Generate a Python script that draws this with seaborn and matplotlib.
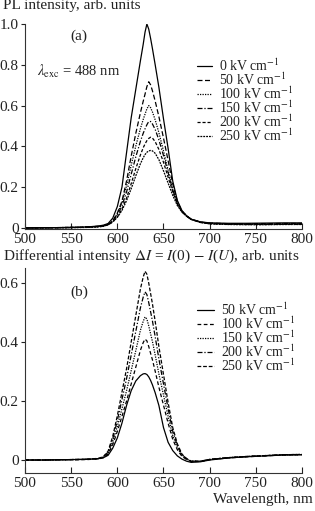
import matplotlib
matplotlib.use("Agg")
import matplotlib.pyplot as plt
import seaborn as sns
import numpy as np

sns.set_theme(style="ticks")
plt.rcParams['font.family'] = ['Liberation Serif', 'DejaVu Serif']
plt.rcParams['mathtext.fontset'] = 'stix'

# ---------------- data ----------------
wavelength = [500, 520, 540, 560, 570, 580, 585, 590, 595, 600, 605, 610, 615, 620,
              625, 628, 630, 632, 634, 636, 638, 641, 645, 650, 655, 660, 665, 670,
              675, 680, 690, 700, 720, 740, 760, 780, 800]

pl_labels = ["0 kV cm$^{-1}$", "50 kV cm$^{-1}$", "100 kV cm$^{-1}$",
             "150 kV cm$^{-1}$", "200 kV cm$^{-1}$", "250 kV cm$^{-1}$"]

pl_0 = [0.000, 0.001, 0.002, 0.004, 0.006, 0.010, 0.014, 0.022, 0.048, 0.105, 0.200, 0.370,
        0.540, 0.680, 0.820, 0.900, 0.960, 1.000, 0.975, 0.930, 0.880, 0.800, 0.690, 0.535,
        0.390, 0.230, 0.135, 0.085, 0.060, 0.043, 0.030, 0.025, 0.023, 0.023, 0.024, 0.025, 0.025]
pl_50 = [0.000, 0.001, 0.002, 0.003, 0.005, 0.008, 0.011, 0.017, 0.034, 0.073, 0.131, 0.231,
         0.352, 0.464, 0.565, 0.621, 0.656, 0.693, 0.717, 0.702, 0.673, 0.622, 0.546, 0.441,
         0.330, 0.217, 0.130, 0.083, 0.059, 0.043, 0.029, 0.024, 0.021, 0.021, 0.021, 0.022, 0.022]
pl_100 = [0.000, 0.001, 0.002, 0.003, 0.005, 0.008, 0.011, 0.018, 0.036, 0.071, 0.123, 0.207,
          0.307, 0.402, 0.487, 0.532, 0.558, 0.584, 0.600, 0.590, 0.569, 0.530, 0.467, 0.378,
          0.283, 0.189, 0.125, 0.082, 0.059, 0.043, 0.028, 0.023, 0.020, 0.020, 0.020, 0.021, 0.021]
pl_150 = [0.000, 0.001, 0.002, 0.003, 0.005, 0.008, 0.011, 0.017, 0.033, 0.063, 0.108, 0.177,
          0.263, 0.349, 0.425, 0.464, 0.486, 0.506, 0.522, 0.522, 0.510, 0.483, 0.432, 0.355,
          0.271, 0.187, 0.120, 0.080, 0.058, 0.042, 0.028, 0.022, 0.019, 0.018, 0.018, 0.019, 0.019]
pl_200 = [0.000, 0.001, 0.002, 0.003, 0.004, 0.007, 0.010, 0.015, 0.029, 0.054, 0.092, 0.147,
          0.217, 0.291, 0.358, 0.393, 0.412, 0.428, 0.439, 0.445, 0.441, 0.423, 0.385, 0.322,
          0.249, 0.178, 0.116, 0.079, 0.058, 0.042, 0.027, 0.021, 0.018, 0.017, 0.017, 0.018, 0.018]
pl_250 = [0.000, 0.001, 0.001, 0.002, 0.003, 0.005, 0.008, 0.016, 0.030, 0.052, 0.086, 0.134,
          0.192, 0.256, 0.315, 0.344, 0.360, 0.371, 0.378, 0.380, 0.378, 0.366, 0.335, 0.280,
          0.220, 0.160, 0.110, 0.078, 0.058, 0.042, 0.027, 0.020, 0.017, 0.016, 0.016, 0.017, 0.017]

diff_labels = ["50 kV cm$^{-1}$", "100 kV cm$^{-1}$", "150 kV cm$^{-1}$",
               "200 kV cm$^{-1}$", "250 kV cm$^{-1}$"]

diff_50 = [0.000, 0.000, 0.001, 0.002, 0.003, 0.005, 0.008, 0.016, 0.040, 0.075, 0.125, 0.185,
           0.235, 0.268, 0.286, 0.292, 0.293, 0.290, 0.282, 0.270, 0.255, 0.228, 0.185, 0.110,
           0.060, 0.032, 0.014, 0.003, -0.004, -0.008, -0.006, 0.000, 0.007, 0.011, 0.014, 0.017, 0.018]
diff_100 = [0.000, 0.000, 0.001, 0.001, 0.002, 0.004, 0.008, 0.020, 0.052, 0.097, 0.148, 0.200,
            0.258, 0.315, 0.372, 0.398, 0.410, 0.404, 0.385, 0.362, 0.340, 0.301, 0.247, 0.186,
            0.125, 0.070, 0.035, 0.012, 0.002, -0.005, -0.005, 0.001, 0.007, 0.011, 0.014, 0.017, 0.018]
diff_150 = [0.000, 0.000, 0.001, 0.002, 0.002, 0.005, 0.009, 0.023, 0.061, 0.114, 0.174, 0.235,
            0.303, 0.371, 0.440, 0.470, 0.485, 0.478, 0.455, 0.428, 0.402, 0.356, 0.292, 0.220,
            0.148, 0.083, 0.042, 0.015, 0.003, -0.004, -0.004, 0.002, 0.008, 0.012, 0.015, 0.017, 0.018]
diff_200 = [0.000, 0.000, 0.001, 0.002, 0.003, 0.005, 0.011, 0.027, 0.071, 0.134, 0.205, 0.276,
            0.356, 0.436, 0.516, 0.552, 0.570, 0.561, 0.534, 0.503, 0.472, 0.418, 0.343, 0.258,
            0.174, 0.098, 0.049, 0.018, 0.004, -0.004, -0.004, 0.002, 0.008, 0.012, 0.015, 0.018, 0.019]
diff_250 = [0.000, 0.000, 0.001, 0.002, 0.003, 0.006, 0.012, 0.030, 0.080, 0.150, 0.230, 0.310,
            0.400, 0.490, 0.580, 0.620, 0.640, 0.630, 0.600, 0.565, 0.530, 0.470, 0.385, 0.290,
            0.195, 0.110, 0.055, 0.020, 0.005, -0.004, -0.004, 0.002, 0.008, 0.012, 0.015, 0.018, 0.019]

x_ticks = [500, 550, 600, 650, 700, 750, 800]
y_ticks_a = [0, 0.2, 0.4, 0.6, 0.8, 1.0]
y_tick_labels_a = ["0", "0.2", "0.4", "0.6", "0.8", "1.0"]
y_ticks_b = [0, 0.2, 0.4, 0.6]
y_tick_labels_b = ["0", "0.2", "0.4", "0.6"]

pl_series = [pl_0, pl_50, pl_100, pl_150, pl_200, pl_250]
diff_series = [diff_50, diff_100, diff_150, diff_200, diff_250]

pl_styles = ['-', (0, (4, 2)), (0, (1, 1)), (0, (4, 1.5, 1, 1.5)), (0, (2.5, 1.5)), (0, (1.5, 0.8))]
diff_styles = ['-', (0, (3, 2)), (0, (1, 1)), (0, (4, 1.5, 1, 1.5)), (0, (3, 1.5))]

# ---------------- figure ----------------
W, H = 315, 511
fig = plt.figure(figsize=(W / 100, H / 100), dpi=100)

def fx(px):
    return px / W

def fy(py):
    return 1 - py / H

ax1 = fig.add_axes([fx(25), fy(229), fx(302) - fx(25), fy(24) - fy(229)])
ax2 = fig.add_axes([fx(25), fy(473), fx(302) - fx(25), fy(268) - fy(473)])

FS = 11
LFS = 10
TXT = '#222222'
for vals, lab, ls in zip(pl_series, pl_labels, pl_styles):
    sns.lineplot(x=wavelength, y=vals, ax=ax1, color='black', linewidth=0.9,
                 linestyle=ls, label=lab)
for vals, lab, ls in zip(diff_series, diff_labels, diff_styles):
    sns.lineplot(x=wavelength, y=vals, ax=ax2, color='black', linewidth=0.9,
                 linestyle=ls, label=lab)

for ax, yt, ytl in [(ax1, y_ticks_a, y_tick_labels_a), (ax2, y_ticks_b, y_tick_labels_b)]:
    ax.set_xlim(500, 800)
    ax.set_xticks(x_ticks)
    ax.set_xticklabels([str(v) for v in x_ticks])
    ax.set_yticks(yt)
    ax.set_yticklabels(ytl)
    for s in ['top', 'right']:
        ax.spines[s].set_visible(False)
    for s in ['left', 'bottom']:
        ax.spines[s].set_linewidth(0.8)
        ax.spines[s].set_color('#333333')
    ax.tick_params(axis='x', direction='in', length=4, width=0.8, pad=3,
                   labelsize=FS, colors=TXT)
    ax.tick_params(axis='y', direction='out', length=3, width=0.8, pad=1.5,
                   labelsize=FS, colors=TXT)
    ax.set_xlabel("")
    ax.set_ylabel("")
    ax.patch.set_alpha(0)

ax1.set_ylim(-0.005, 1.0)
ax2.set_ylim(-0.044, 0.651)

leg_x = (197 - 25) / (302 - 25)
leg1 = ax1.legend(loc='upper left', bbox_to_anchor=(leg_x, 0.835),
                  frameon=False, fontsize=LFS, handlelength=1.1, handletextpad=0.5,
                  labelspacing=-0.19, borderpad=0, borderaxespad=0)
leg2 = ax2.legend(loc='upper left', bbox_to_anchor=(leg_x, 0.835),
                  frameon=False, fontsize=LFS, handlelength=1.2, handletextpad=0.5,
                  labelspacing=-0.19, borderpad=0, borderaxespad=0)
for leg in (leg1, leg2):
    for t in leg.get_texts():
        t.set_color(TXT)

ax1.text(558.5, 0.94, "(a)", fontsize=FS, ha='center', va='center', color=TXT)
ax1.text(513, 0.765, r"$\lambda_{\rm exc}$ = 488 nm", fontsize=10.5, ha='left', va='center',
         color=TXT)
ax2.text(558.5, 0.57, "(b)", fontsize=FS, ha='center', va='center', color=TXT)

fig.text(fx(3), fy(6), "PL intensity, arb. units", fontsize=FS, ha='left', va='center',
         color=TXT)
fig.text(fx(3), fy(256), r"Differential intensity $\Delta I$ = $I$(0) $-$ $I$($U$), arb. units",
         fontsize=FS, ha='left', va='center', color=TXT)
fig.text(fx(313), fy(499), "Wavelength, nm", fontsize=FS, ha='right', va='center',
         color=TXT)

fig.savefig("out.png", dpi=100)
